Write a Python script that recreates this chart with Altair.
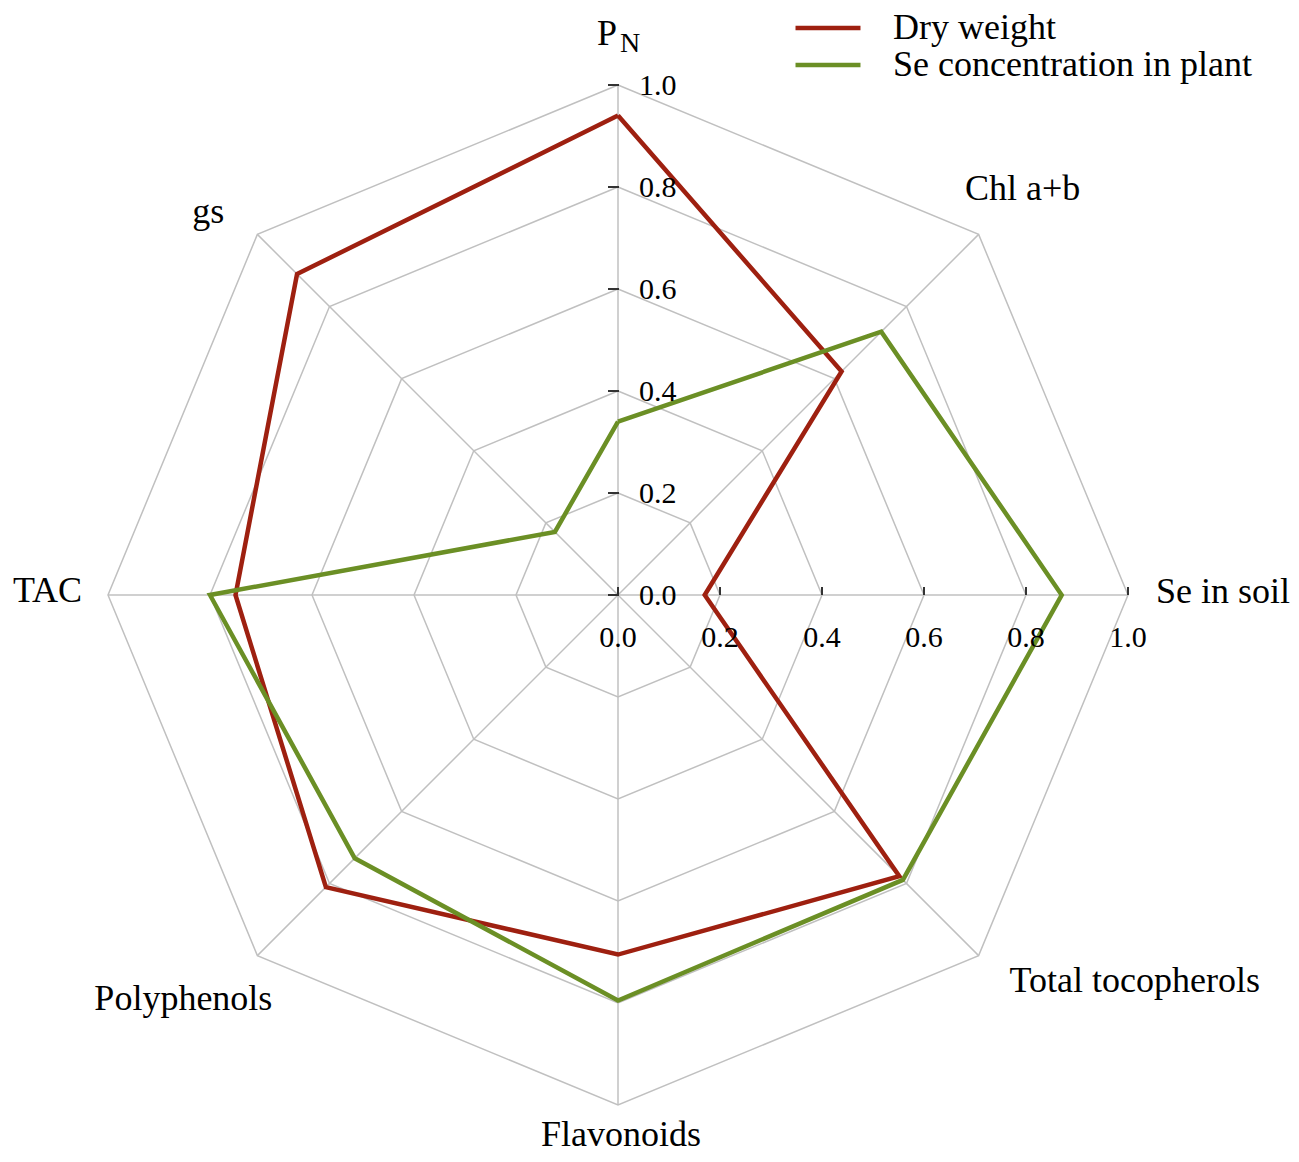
import math
import altair as alt
import pandas as pd

# ---------------- data ----------------
categories = ["PN", "Chl a+b", "Se in soil", "Total tocopherols",
              "Flavonoids", "Polyphenols", "TAC", "gs"]
dry_weight = [0.94, 0.62, 0.17, 0.78, 0.705, 0.81, 0.75, 0.89]
se_plant = [0.34, 0.73, 0.87, 0.79, 0.795, 0.73, 0.80, 0.175]
series_names = ["Dry weight", "Se concentration in plant"]
ring_levels = [0.2, 0.4, 0.6, 0.8, 1.0]
tick_values = [0.0, 0.2, 0.4, 0.6, 0.8, 1.0]

# ---------------- style / layout ----------------
RED = "#9E2010"
GREEN = "#6B8F25"
GRID = "#C0C0C0"
FONT = "Liberation Serif"
W, H = 1282, 1146
PX = 510.0           # pixels per unit radius
CX, CY = 610, 587    # centre of the radar in the plot area
xs = alt.Scale(domain=[-CX / PX, (W - CX) / PX], nice=False, zero=False)
ys = alt.Scale(domain=[-(H - CY) / PX, CY / PX], nice=False, zero=False)
n = len(categories)
ANG = f"datum.k * 2 * PI / {n}"

# label placement relative to the outer vertex: (dx, dy, align)
label_layout = {
    "PN": (-1, -40, "right"),
    "Chl a+b": (44, -34, "center"),
    "Se in soil": (28, 8, "left"),
    "Total tocopherols": (31, 36, "left"),
    "Flavonoids": (3, 41, "center"),
    "Polyphenols": (15, 54, "right"),
    "TAC": (-26, 7, "right"),
    "gs": (-33, -11, "right"),
}

# ---------------- tables ----------------
series_rows = []
for s, vals in zip(series_names, [dry_weight, se_plant]):
    for k in range(n + 1):
        series_rows.append({"series": s, "k": k, "cat": categories[k % n], "v": vals[k % n]})
series_df = pd.DataFrame(series_rows)

ring_df = pd.DataFrame([{"level": lv, "k": k} for lv in ring_levels for k in range(n + 1)])
spoke_df = pd.DataFrame({"k": list(range(n))})
tick_df = pd.DataFrame({"t": tick_values})
label_df = pd.DataFrame({"k": list(range(n)), "cat": categories})


def XY(xf, yf):
    return dict(x=alt.X(f"{xf}:Q", scale=xs, axis=None),
                y=alt.Y(f"{yf}:Q", scale=ys, axis=None))


rings = alt.Chart(ring_df).transform_calculate(
    px=f"datum.level * sin({ANG})", py=f"datum.level * cos({ANG})"
).mark_line(stroke=GRID, strokeWidth=1.5).encode(
    **XY("px", "py"), detail="level:N", order="k:Q")

spokes = alt.Chart(spoke_df).transform_calculate(
    z="0", px=f"sin({ANG})", py=f"cos({ANG})"
).mark_rule(stroke=GRID, strokeWidth=1.5).encode(
    **XY("z", "z"), x2="px:Q", y2="py:Q")

lines = alt.Chart(series_df).transform_calculate(
    px=f"datum.v * sin({ANG})", py=f"datum.v * cos({ANG})"
).mark_line(strokeWidth=4.5, strokeJoin="miter").encode(
    **XY("px", "py"),
    order="k:Q",
    color=alt.Color("series:N",
                    scale=alt.Scale(domain=series_names, range=[RED, GREEN]),
                    legend=alt.Legend(title=None, orient="none",
                                      legendX=802, legendY=2,
                                      symbolType="M-3,0H3", symbolSize=469,
                                      symbolStrokeWidth=4.5,
                                      labelFont=FONT, labelFontSize=36,
                                      labelColor="black", labelOffset=47,
                                      rowPadding=1, labelLimit=0)))

vticks = alt.Chart(tick_df).transform_calculate(z="0").mark_rule(
    stroke="#333333", strokeWidth=2, xOffset=-10, x2Offset=1
).encode(**XY("z", "t"), x2="z:Q")

hticks = alt.Chart(tick_df).transform_calculate(z="0").mark_rule(
    stroke="#333333", strokeWidth=2, yOffset=-8, y2Offset=0
).encode(**XY("t", "z"), y2="z:Q")

vlabels = alt.Chart(tick_df).transform_calculate(z="0").mark_text(
    align="left", baseline="alphabetic", dx=21, dy=10,
    font=FONT, fontSize=30, color="black"
).encode(**XY("z", "t"), text=alt.Text("t:Q", format=".1f"))

hlabels = alt.Chart(tick_df).transform_calculate(z="0").mark_text(
    align="center", baseline="alphabetic", dx=0, dy=52,
    font=FONT, fontSize=30, color="black"
).encode(**XY("t", "z"), text=alt.Text("t:Q", format=".1f"))

cat_layers = []
for i, c in enumerate(categories):
    dx, dy, al = label_layout[c]
    base = alt.Chart(label_df).transform_filter(f"datum.k == {i}").transform_calculate(
        px=f"sin({ANG})", py=f"cos({ANG})",
        main="substring(datum.cat, 0, 1)" if c == "PN" else "datum.cat",
        sub="substring(datum.cat, 1)")
    cat_layers.append(base.mark_text(
        align=al, baseline="alphabetic", dx=dx, dy=dy,
        font=FONT, fontSize=36, color="black"
    ).encode(**XY("px", "py"), text="main:N"))
    if c == "PN":
        cat_layers.append(base.mark_text(
            align="left", baseline="alphabetic", dx=2, dy=-33,
            font=FONT, fontSize=28, color="black"
        ).encode(**XY("px", "py"), text="sub:N"))

chart = alt.layer(
    rings, spokes, vticks, hticks, lines, vlabels, hlabels, *cat_layers
).properties(
    width=W, height=H,
    autosize=alt.AutoSizeParams(type="none"),
    padding=0,
    background="white",
).configure_view(strokeWidth=0, stroke=None)

chart.save("out.html", embed_options={"renderer": "svg", "actions": False})
